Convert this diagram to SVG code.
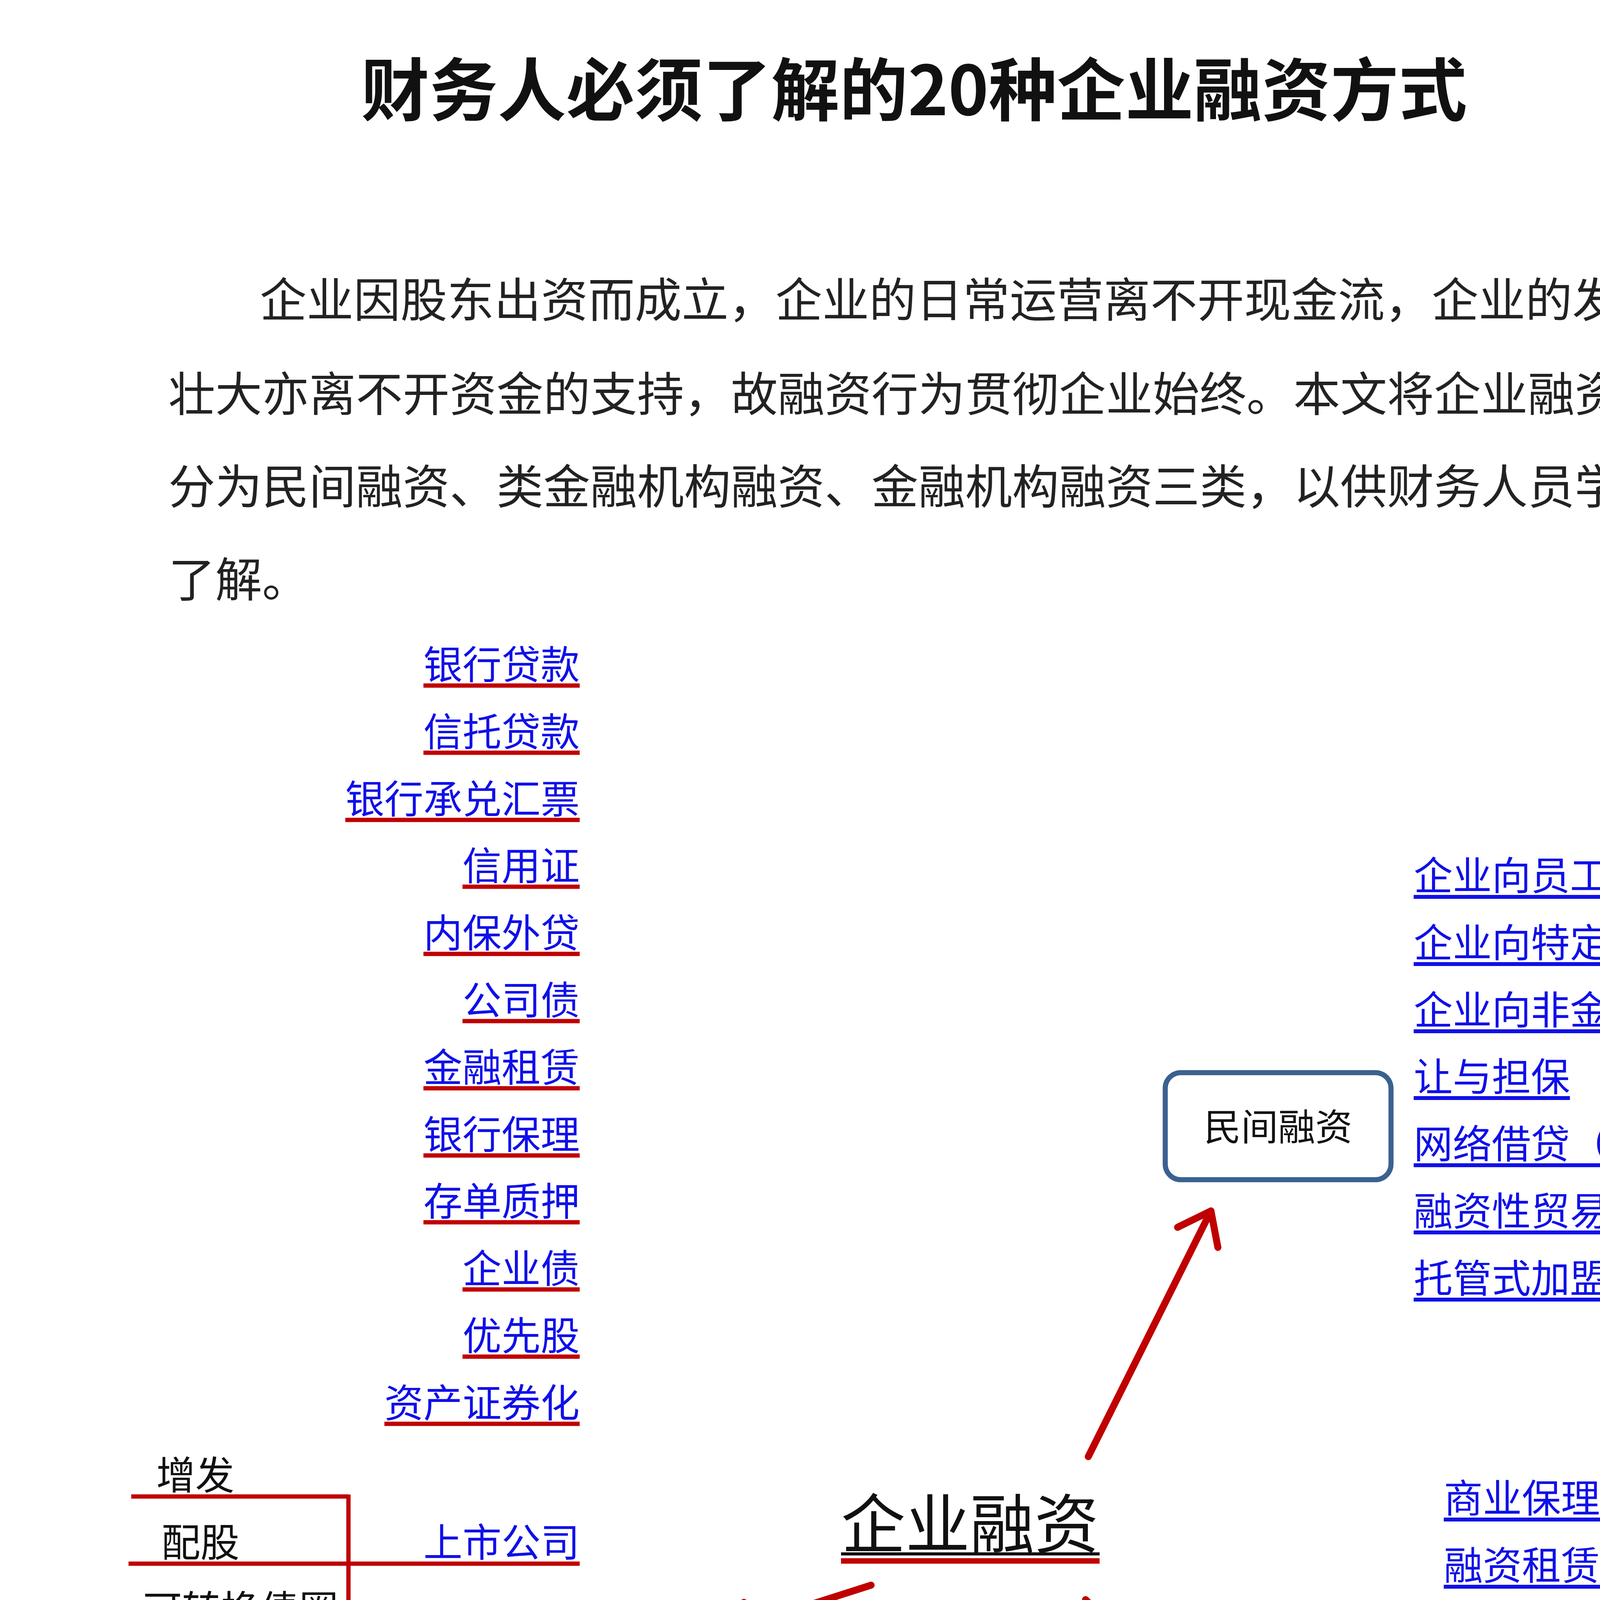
<svg xmlns="http://www.w3.org/2000/svg" width="4555" height="5731" viewBox="0 0 4555 5731">
<style>
text{font-family:"Noto Sans CJK SC","Liberation Sans",sans-serif;}
.t{font-size:175px;font-weight:bold;fill:#111;text-anchor:middle}
.p{font-size:120px;fill:#222}
.l{font-size:100px;fill:#1010e8}
.r{text-anchor:end}
.k{font-size:100px;fill:#111}
.ru{stroke:#c00000;stroke-width:11;fill:none}
.bu{stroke:#1010e8;stroke-width:10;fill:none}
.box{fill:#fff;stroke:#3a6190;stroke-width:13}
.bt{font-size:95px;fill:#111;text-anchor:middle}
.ar{stroke:#c00000;stroke-width:18;fill:none;stroke-linecap:round}
</style>
<defs>
<marker id="ah" markerWidth="8" markerHeight="8" refX="5" refY="4" orient="auto" markerUnits="strokeWidth"><path d="M0.8,0.8 L5,4 L0.8,7.2" fill="none" stroke="#c00000" stroke-width="1" stroke-linecap="round" stroke-linejoin="round"/></marker>
</defs>
<rect width="4555" height="5731" fill="#fff"/>
<g id="title"><text class="t" x="2340" y="295">财务人必须了解的20种企业融资方式</text></g>
<g id="intro">
<text class="p" x="665" y="812">企业因股东出资而成立，企业的日常运营离不开现金流，企业的发展</text>
<text class="p" x="431" y="1053">壮大亦离不开资金的支持，故融资行为贯彻企业始终。本文将企业融资区</text>
<text class="p" x="431" y="1290">分为民间融资、类金融机构融资、金融机构融资三类，以供财务人员学习</text>
<text class="p" x="431" y="1528">了解。</text>
</g>
<g id="connectors">
<line class="ar" x1="2786" y1="3729" x2="3100" y2="3100" marker-end="url(#ah)"/>
<line class="ar" x1="2230" y1="4058" x2="1850" y2="4180" marker-end="url(#ah)"/>
<line class="ar" x1="2779" y1="4095" x2="2985" y2="4300" marker-end="url(#ah)"/>
</g>
<g id="center">
<text x="2153" y="3962" font-size="165" fill="#111">企业融资</text>
<line x1="2153" y1="3978" x2="2815" y2="3978" stroke="#111" stroke-width="8"/>
<line x1="2153" y1="3996" x2="2815" y2="3996" stroke="#c00000" stroke-width="14"/>
</g>
<g id="minjian"><rect class="box" x="2983" y="2746" width="578" height="274" rx="40"/><text class="bt" x="3272" y="2920">民间融资</text></g>
<g id="jinrong"><rect class="box" x="1565" y="4259" width="705" height="274" rx="40"/><text class="bt" x="1916" y="4430">金融融资</text></g>
<g id="leijinrong"><rect class="box" x="2907" y="4402" width="709" height="270" rx="40"/><text class="bt" x="3261" y="4577">类金融融资</text></g>
<g id="left-list">
<text class="l r" x="1484" y="1738">银行贷款</text><line class="ru" x1="1084" y1="1755" x2="1484" y2="1755"/>
<text class="l r" x="1484" y="1910">信托贷款</text><line class="ru" x1="1084" y1="1927" x2="1484" y2="1927"/>
<text class="l r" x="1484" y="2082">银行承兑汇票</text><line class="ru" x1="884" y1="2099" x2="1484" y2="2099"/>
<text class="l r" x="1484" y="2253">信用证</text><line class="ru" x1="1184" y1="2270" x2="1484" y2="2270"/>
<text class="l r" x="1484" y="2425">内保外贷</text><line class="ru" x1="1084" y1="2442" x2="1484" y2="2442"/>
<text class="l r" x="1484" y="2597">公司债</text><line class="ru" x1="1184" y1="2614" x2="1484" y2="2614"/>
<text class="l r" x="1484" y="2769">金融租赁</text><line class="ru" x1="1084" y1="2786" x2="1484" y2="2786"/>
<text class="l r" x="1484" y="2941">银行保理</text><line class="ru" x1="1084" y1="2958" x2="1484" y2="2958"/>
<text class="l r" x="1484" y="3112">存单质押</text><line class="ru" x1="1084" y1="3129" x2="1484" y2="3129"/>
<text class="l r" x="1484" y="3284">企业债</text><line class="ru" x1="1184" y1="3301" x2="1484" y2="3301"/>
<text class="l r" x="1484" y="3456">优先股</text><line class="ru" x1="1184" y1="3473" x2="1484" y2="3473"/>
<text class="l r" x="1484" y="3628">资产证券化</text><line class="ru" x1="984" y1="3645" x2="1484" y2="3645"/>
</g>
<g id="listed">
<text class="k" x="400" y="3813">增发</text><line class="ru" x1="336" y1="3831" x2="892" y2="3831"/>
<line class="ru" x1="892" y1="3826" x2="892" y2="4186"/>
<text class="k" x="413" y="3985">配股</text><line class="ru" x1="329" y1="4003" x2="1484" y2="4003"/>
<text class="l r" x="1484" y="3985">上市公司</text>
<text class="k" x="366" y="4157">可转换债圈</text><line class="ru" x1="329" y1="4175" x2="892" y2="4175"/>
<text class="l r" x="1484" y="4329">新三板企业</text><line class="ru" x1="984" y1="4347" x2="1484" y2="4347"/>
<text class="k" x="168" y="4500">债权企业融资</text>
<text class="l r" x="1484" y="4500">商业承兑汇票</text><line class="ru" x1="168" y1="4522" x2="1484" y2="4522"/>
<line class="ru" x1="812" y1="4517" x2="812" y2="4691"/>
<text class="k" x="175" y="4672">债权企业融资</text><line class="ru" x1="172" y1="4691" x2="812" y2="4691"/>
</g>
<g id="left-bottom">
<text class="l r" x="1484" y="4972">前海跨境人民币贷款</text><line class="ru" x1="584" y1="4990" x2="1484" y2="4990"/>
<text class="l r" x="1484" y="5144">福费廷</text><line class="ru" x1="1184" y1="5162" x2="1484" y2="5162"/>
<text class="l r" x="1484" y="5316">贸易融资</text><line class="ru" x1="1084" y1="5334" x2="1484" y2="5334"/>
<text class="l r" x="1484" y="5488">应收账款质押贷款</text><line class="ru" x1="684" y1="5506" x2="1484" y2="5506"/>
<text class="l r" x="1484" y="5660">上海自贸区跨境人民币境外借款</text><line class="ru" x1="84" y1="5678" x2="1484" y2="5678"/>
</g>
<g id="minjian-list">
<text class="l" x="3619" y="2278">企业向员工借贷</text><line class="bu" x1="3619" y1="2296" x2="4319" y2="2296"/>
<text class="l" x="3619" y="2450">企业向特定非员工借贷</text><line class="bu" x1="3619" y1="2468" x2="4619" y2="2468"/>
<text class="l" x="3619" y="2622">企业向非金融企业借贷</text><line class="bu" x1="3619" y1="2640" x2="4619" y2="2640"/>
<text class="l" x="3619" y="2793">让与担保</text><line class="bu" x1="3619" y1="2811" x2="4019" y2="2811"/>
<text class="l" x="3619" y="2965">网络借贷（p2p）</text><line class="bu" x1="3619" y1="2983" x2="4405" y2="2983"/>
<text class="l" x="3619" y="3137">融资性贸易</text><line class="bu" x1="3619" y1="3155" x2="4119" y2="3155"/>
<text class="l" x="3619" y="3309">托管式加盟</text><line class="bu" x1="3619" y1="3327" x2="4119" y2="3327"/>
</g>
<g id="leijinrong-list">
<text class="l" x="3696" y="3872">商业保理</text><line class="bu" x1="3696" y1="3890" x2="4096" y2="3890"/>
<text class="l" x="3696" y="4044">融资租赁</text><line class="bu" x1="3696" y1="4062" x2="4096" y2="4062"/>
<text class="l" x="3696" y="4216">典当</text><line class="bu" x1="3696" y1="4234" x2="3896" y2="4234"/>
<text class="l" x="3696" y="4388">小额贷款公司</text><line class="bu" x1="3696" y1="4406" x2="4296" y2="4406"/>
<text class="l" x="3696" y="4559">私募股权基金</text><line class="bu" x1="3696" y1="4577" x2="4296" y2="4577"/>
<text class="l" x="3696" y="4731">股权众筹</text><line class="bu" x1="3696" y1="4749" x2="4096" y2="4749"/>
<text class="l" x="3696" y="4903">股权质押</text><line class="bu" x1="3696" y1="4921" x2="4096" y2="4921"/>
<text class="l" x="3696" y="5075">动产浮动质押</text><line class="bu" x1="3696" y1="5093" x2="4296" y2="5093"/>
<text class="l" x="3696" y="5247">仓单质押</text><line class="bu" x1="3696" y1="5265" x2="4096" y2="5265"/>
<text class="l" x="3696" y="5418">保单质押贷款</text><line class="bu" x1="3696" y1="5436" x2="4296" y2="5436"/>
</g>
<g id="watermark"><text x="3190" y="5590" font-size="125" fill="#c8c8c8">知乎 @小秦会计殿堂</text></g>
</svg>
